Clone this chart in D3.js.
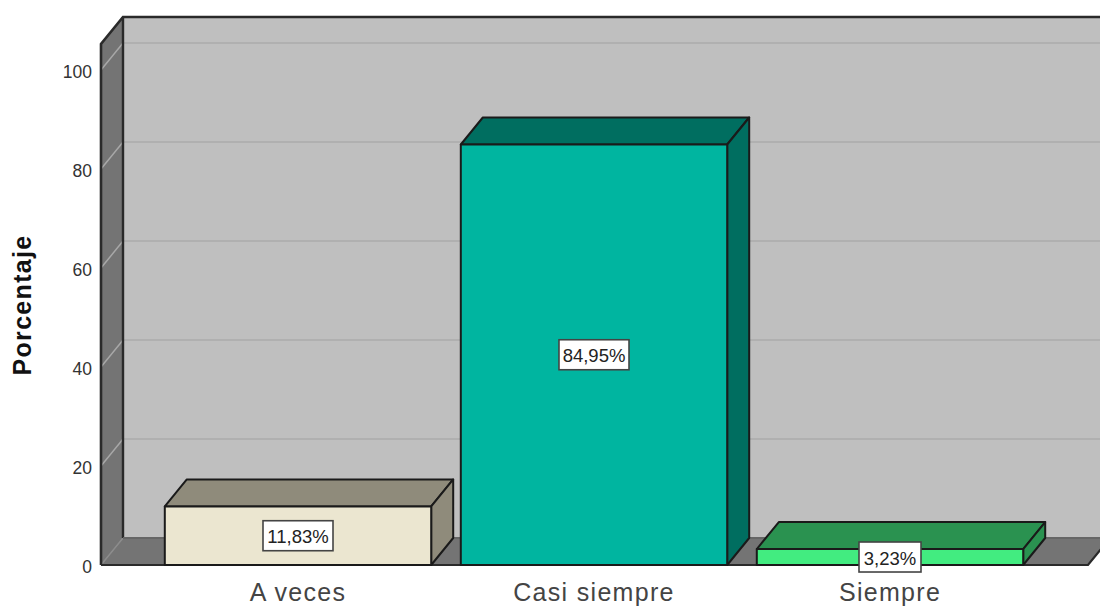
<!DOCTYPE html>
<html><head><meta charset="utf-8">
<script src="https://cdn.jsdelivr.net/npm/d3@7"></script>
<style>html,body{margin:0;padding:0;background:#fff}svg{display:block}text{font-family:"Liberation Sans",Arial,sans-serif}</style>
</head><body><svg id="c" width="1100" height="606"></svg>
<script>
const categories = ["A veces","Casi siempre","Siempre"];
const values = [11.83,84.95,3.23];
const valueLabels = ["11,83%","84,95%","3,23%"];
const frontColors = ["#ebe6d0","#00b5a0","#42ec80"];
const sideColors = ["#8f8b7b","#006e60","#2a9250"];
const yTicks = [0,20,40,60,80,100];
const yMax = 105.25;

const dx = 22, dy = -27;
const svg = d3.select("#c");
const y = d3.scaleLinear().domain([0,100]).range([565,70]);
const x = d3.scaleBand().domain(categories).range([150,1038]).paddingInner(0.1).paddingOuter(0.05);
const plotL = 101, plotR = 1088;
const ink = "#2a2a2a";
const line = d3.line();
const poly = (pts,fill,stroke,w) => svg.append("path").attr("d",line(pts)+"Z").attr("fill",fill)
  .attr("stroke",stroke||"none").attr("stroke-width",w||0).attr("stroke-linejoin","round");

// back wall, side wall and floor
const plotTop = y(yMax), base = y(0);
poly([[plotL+dx,plotTop+dy],[plotR+dx+5,plotTop+dy],[plotR+dx+5,base+dy],[plotL+dx,base+dy]],"#bfbfbf");
poly([[plotL,plotTop],[plotL+dx,plotTop+dy],[plotL+dx,base+dy],[plotL,base]],"#747474");
poly([[plotL,base],[plotL+dx,base+dy],[plotR+dx,base+dy],[plotR,base]],"#747474");

// gridlines
yTicks.forEach(t=>{
  if(t>0) svg.append("line").attr("x1",plotL+dx).attr("x2",1100).attr("y1",y(t)+dy).attr("y2",y(t)+dy)
    .attr("stroke","#b0b0b0").attr("stroke-width",2);
  svg.append("line").attr("x1",plotL).attr("x2",plotL+dx).attr("y1",y(t)).attr("y2",y(t)+dy)
    .attr("stroke",t>0?"#a8a8a8":"#8c8c8c").attr("stroke-width",1.5);
});

// frame edges
svg.append("path").attr("fill","none").attr("stroke",ink).attr("stroke-width",2.6)
  .attr("d",line([[plotL,base],[plotL,plotTop],[plotL+dx,plotTop+dy],[1100,plotTop+dy]]));
svg.append("path").attr("fill","none").attr("stroke",ink).attr("stroke-width",2.4)
  .attr("d",line([[plotL+dx,plotTop+dy],[plotL+dx,base+dy]]));
svg.append("path").attr("fill","none").attr("stroke","#666").attr("stroke-width",2)
  .attr("d",line([[plotL+dx,base+dy],[1100,base+dy]]));
svg.append("path").attr("fill","none").attr("stroke",ink).attr("stroke-width",2.2)
  .attr("d",line([[plotL,base],[plotR,base],[plotR+dx,base+dy]]));

// bars
categories.forEach((c,i)=>{
  const l=x(c), r=l+x.bandwidth(), t=y(values[i]);
  poly([[l,t],[l+dx,t+dy],[r+dx,t+dy],[r,t]],sideColors[i],"#1a1a1a",2);
  poly([[r,t],[r+dx,t+dy],[r+dx,base+dy],[r,base]],sideColors[i],"#1a1a1a",2);
  poly([[l,t],[r,t],[r,base],[l,base]],frontColors[i],"#1a1a1a",2);
});

// value labels
categories.forEach((c,i)=>{
  const cx=x(c)+x.bandwidth()/2, cy=(y(values[i])+base)/2;
  const w = i==2?62:70;
  svg.append("rect").attr("x",cx-w/2).attr("y",cy-15).attr("width",w).attr("height",30)
    .attr("fill","#fff").attr("stroke","#444").attr("stroke-width",1.6);
  svg.append("text").attr("x",cx).attr("y",cy+7.5).attr("text-anchor","middle")
    .attr("font-size",18.5).attr("fill","#222").text(valueLabels[i]);
});

// axes
const yAxis = d3.axisLeft(y).tickValues(yTicks).tickSize(0).tickPadding(9);
const gy = svg.append("g").attr("transform",`translate(${plotL},2)`).call(yAxis);
gy.select(".domain").remove();
gy.selectAll("text").attr("font-size",17.5).attr("fill","#333").style("font-family",'"Liberation Sans",Arial,sans-serif');

const xAxis = d3.axisBottom(x).tickSize(0).tickPadding(18);
const gx = svg.append("g").attr("transform",`translate(0,${base})`).call(xAxis);
gx.select(".domain").remove();
gx.selectAll("text").attr("font-size",25).attr("fill","#444").attr("letter-spacing",1.3).style("font-family",'"Liberation Sans",Arial,sans-serif');

svg.append("text").attr("transform","translate(31,305) rotate(-90)").attr("text-anchor","middle")
  .attr("font-size",25).attr("font-weight","bold").attr("letter-spacing",1.3).attr("fill","#111").text("Porcentaje");
</script></body></html>
